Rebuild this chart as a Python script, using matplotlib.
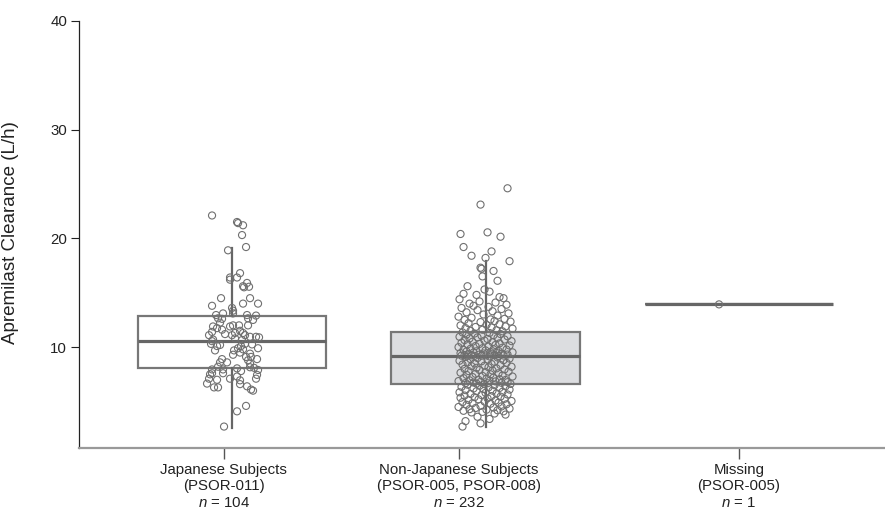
import matplotlib
matplotlib.use("Agg")
import matplotlib.pyplot as plt
import numpy as np

plt.rcParams["font.family"] = ["Liberation Sans", "DejaVu Sans"]
plt.rcParams["mathtext.fontset"] = "custom"
plt.rcParams["mathtext.it"] = "Liberation Sans:italic"
plt.rcParams["mathtext.rm"] = "Liberation Sans"

# ---- data -------------------------------------------------------------
groups = ["Japanese Subjects", "Non-Japanese Subjects", "Missing"]
studies = ["(PSOR-011)", "(PSOR-005, PSOR-008)", "(PSOR-005)"]
counts = [104, 232, 1]

# box statistics (L/h): lower whisker, Q1, median, Q3, upper whisker
whisker_low = [2.6, 2.7, 13.93]
q1 = [8.08, 6.6, 13.93]
median = [10.56, 9.18, 13.93]
q3 = [12.86, 11.4, 13.93]
whisker_high = [19.1, 17.94, 13.93]

# individual clearance values (L/h) with their horizontal jitter (pixels)
japanese_cl = [
    22.1, 21.5, 21.4, 21.2, 20.3, 19.2, 18.9, 16.8, 16.4, 16.2, 16.4, 15.9,
    15.55, 15.5, 14.5, 14.5, 13.8, 14.0, 14.0, 13.6, 13.35, 13.1, 12.95, 12.95,
    12.9, 12.65, 12.6, 13.1, 12.65, 12.25, 12.5, 11.9, 11.75, 12.0, 12.0, 11.4,
    11.1, 11.2, 11.1, 11.3, 11.5, 11.3, 11.1, 10.95, 10.95, 10.7, 10.8, 10.65,
    10.3, 10.1, 10.1, 10.3, 10.25, 9.9, 9.7, 9.7, 9.9, 9.8, 9.3, 9.5,
    9.4, 9.1, 8.9, 8.9, 8.6, 8.6, 8.5, 8.2, 7.95, 7.95, 8.05, 7.8,
    8.15, 7.9, 7.5, 7.6, 7.1, 7.45, 7.1, 7.0, 6.95, 7.1, 6.65, 6.6,
    6.4, 6.3, 6.3, 6.1, 6.0, 4.6, 4.1, 2.7, 15.6, 11.6, 11.9, 12.0,
    10.55, 10.9, 10.2, 9.1, 8.8, 8.1, 7.3, 7.6,
]
japanese_jit = [
    -20, 5, 6, 11, 10, 14, -4, 8, -2, -2, 5, 15,
    17, 12, -11, 18, -20, 11, 26, 0, 1, -9, -16, 15,
    24, -14, -10, 1, 16, -12, 21, -19, -15, 7, 16, -20,
    -23, -7, 0, 3, 8, 11, 13, 18, 24, -19, 3, 10,
    -21, -15, 9, 13, 20, 26, -17, 2, 6, 11, 1, 8,
    18, 19, 25, -10, -12, -5, 18, -14, -20, -9, 5, 9,
    18, 26, -22, -9, -2, 25, -23, -15, 8, 24, -25, 8,
    15, -18, -14, 19, 21, 14, 5, -8, 11, -10, -2, 1,
    -20, 27, -12, 14, 16, 22, 5, -20,
]

non_japanese_cl = [
    24.6, 23.1, 20.55, 20.4, 20.15, 19.2, 18.8, 18.4, 18.2, 17.9, 17.3, 17.2, 17.0,
    16.5, 16.1, 15.6, 15.3, 15.1, 14.9, 14.8, 14.6, 14.5, 14.4, 14.2, 14.1, 14.0,
    13.9, 13.8, 13.7, 13.6, 13.5, 13.4, 13.3, 13.2, 13.1, 13.0, 12.9, 12.8, 12.7,
    12.6, 12.55, 12.5, 12.4, 12.35, 12.3, 12.2, 12.1, 12.05, 12.0, 11.9, 11.85,
    11.8, 11.75, 11.7, 11.6, 11.55, 11.5, 11.45,
    11.35, 11.3, 11.25, 11.2, 11.15, 11.1, 11.05, 11.0, 10.95, 10.9, 10.85, 10.8,
    10.75, 10.7, 10.65, 10.6, 10.55, 10.5, 10.45, 10.4, 10.35, 10.3, 10.25, 10.2,
    10.15, 10.1, 10.05, 10.0, 9.95, 9.9, 9.85, 9.8, 9.78, 9.75, 9.7, 9.65,
    9.62, 9.6, 9.55, 9.52, 9.5, 9.47, 9.45, 9.42, 9.4, 9.38, 9.35, 9.32,
    9.3, 9.28, 9.26, 9.25, 9.24, 9.23, 9.22, 9.21, 9.2, 9.2,
    9.15, 9.1, 9.05, 9.0, 8.95, 8.9, 8.85, 8.8, 8.75, 8.7, 8.65, 8.6,
    8.55, 8.5, 8.45, 8.4, 8.35, 8.3, 8.25, 8.2, 8.15, 8.1, 8.05, 8.0,
    7.95, 7.9, 7.85, 7.8, 7.75, 7.7, 7.65, 7.6, 7.55, 7.5, 7.45, 7.4,
    7.35, 7.3, 7.25, 7.2, 7.15, 7.1, 7.05, 7.0, 6.98, 6.95, 6.9, 6.88,
    6.85, 6.8, 6.78, 6.75, 6.72, 6.7, 6.68, 6.65, 6.62, 6.6,
    6.55, 6.5, 6.45, 6.4, 6.35, 6.3, 6.25, 6.2, 6.15, 6.1, 6.05, 6.0,
    5.95, 5.9, 5.85, 5.8, 5.75, 5.7, 5.65, 5.6, 5.55, 5.5, 5.45, 5.4,
    5.35, 5.3, 5.25, 5.2, 5.15, 5.1, 5.05, 5.0, 4.95, 4.9, 4.85, 4.8,
    4.75, 4.7, 4.6, 4.55, 4.5, 4.45, 4.4, 4.35, 4.3, 4.25, 4.2, 4.15,
    4.1, 4.05, 4.0, 3.9, 3.8, 3.6, 3.4, 3.2, 3.0, 2.7,
]
non_japanese_jit = [
    22, -5, 2, -25, 15, -22, 6, -14, 0, 24, -5, -4, 8,
    -3, 12, -18, -1, 4, -22, -9, 14, 18, -26, -6, 10, -16,
    21, -12, 3, -24, 16, -8, 7, -19, 23, -2, 12, -27, -14,
    19, 5, -21, 9, 25, -5, -17, 14, 1, -25, 20, -10,
    6, -20, 27, -3, 11, -15, 17,
    -23, 4, -11, 15, -19, 8, -4, 22, -26, -8, 12, -16,
    2, 19, -21, -1, 26, -13, 7, -24, 14, -6, -18, 10,
    24, -10, 3, -27, 17, -3, -15, 8, 21, -22, 0, 13,
    -9, -19, 5, 27, -12, 11, -25, -2, 16, -17, 6, 22,
    -7, -21, 9, -14, 1, 18, -24, -4, 13, -11,
    4, -20, 12, -8, 24, -15, 2, 18, -26, -4, 9, -18,
    21, -11, 6, -23, 15, -1, -14, 26, 3, -9, 11, -21,
    19, -6, 7, -17, 23, 0, -25, 13, -10, 5, -19, 17,
    -3, 27, -13, 8, -22, 1, 14, -7, 20, -16, 4, -27,
    10, -5, 22, -12, 16, -20, 2, -9, 25, -1,
    -18, 9, -6, 20, -24, 3, 14, -12, -2, 24, -20, 7,
    -9, 17, -26, 0, 11, -15, 22, -4, -21, 6, 15, -11,
    -25, 2, 19, -7, -17, 10, 26, -1, -23, 13, -13, 5,
    21, -19, -5, 16, -27, 8, -10, 24, -16, 1, 12, -22,
    18, -3, -14, 9, 20, -8, 4, -20, -5, -23,
]

missing_cl = [13.93]
missing_jit = [-20]

values = [japanese_cl, non_japanese_cl, missing_cl]
jitters = [japanese_jit, non_japanese_jit, missing_jit]

# ---- layout -------------------------------------------------------------
positions = [0.0, 1.0, 2.0]
label_positions = [-0.032, 0.895, 2.0]
px_per_unit = 253.5
box_width = 0.744

fig = plt.figure(figsize=(8.85, 5.23), dpi=100)
ax = fig.add_axes([0.0893, 0.1434, 0.9107, 0.817])

stats = []
for i in range(3):
    stats.append(dict(whislo=whisker_low[i], q1=q1[i], med=median[i],
                      q3=q3[i], whishi=whisker_high[i], fliers=[]))

fills = ["white", "#dcdde0", "white"]
bp = ax.bxp(stats, positions=positions, widths=box_width, patch_artist=True,
            showcaps=False, showfliers=False,
            boxprops=dict(edgecolor="#777777", linewidth=1.6),
            medianprops=dict(color="#666666", linewidth=2.3, solid_capstyle="butt"),
            whiskerprops=dict(color="#666666", linewidth=1.6))
for patch, fc in zip(bp["boxes"], fills):
    patch.set_facecolor(fc)
    patch.set_zorder(1)

for pos, vals, jit in zip(positions, values, jitters):
    xs = pos + np.asarray(jit, dtype=float) / px_per_unit
    ax.scatter(xs, vals, s=26, facecolors="none", edgecolors="#707070",
               linewidths=0.8, zorder=3)

ax.set_xlim(-0.6036, 2.5759)
ax.set_ylim(0.73, 40)
ax.set_yticks([10, 20, 30, 40])

tick_labels = [f"{g}\n{s}\n$\\it{{n}}$ = {c}" for g, s, c in zip(groups, studies, counts)]
ax.set_xticks(label_positions)
ax.set_xticklabels(tick_labels, fontsize=10.8, color="#222222")
ax.tick_params(axis="x", length=8, width=1.0, color="#555555", pad=3)
ax.tick_params(axis="y", length=5.5, width=0.8, color="#222222", labelsize=10.8,
               labelcolor="#222222", pad=3)

ax.set_ylabel("Apremilast Clearance (L/h)", fontsize=13.5, color="#222222")
ax.yaxis.set_label_coords(-0.0744, 0.505)

for side in ("top", "right"):
    ax.spines[side].set_visible(False)
ax.spines["left"].set_color("#222222")
ax.spines["left"].set_linewidth(0.9)
ax.spines["bottom"].set_color("#999999")
ax.spines["bottom"].set_linewidth(1.6)

fig.savefig("out.png", dpi=100)
